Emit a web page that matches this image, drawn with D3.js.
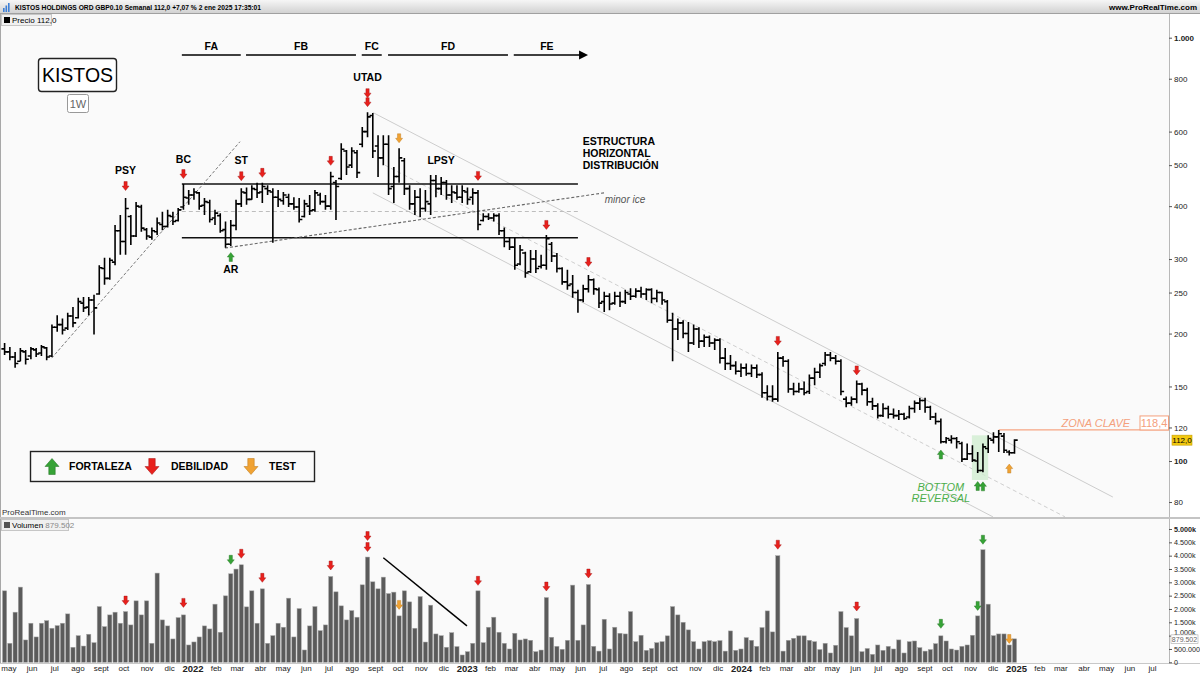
<!DOCTYPE html>
<html>
<head>
<meta charset="utf-8">
<script src="https://cdn.jsdelivr.net/npm/d3@7"></script>
<style>
  body { margin: 0; background: #fff; }
  svg { display: block; font-family: "Liberation Sans", Arial, sans-serif; }
</style>
</head>
<body>
<svg id="chart" width="1200" height="675"></svg>
<script>
// ---- datos semanales (GBp) ----
const firstWeek = new Date(2021, 3, 26);
const opens = [184,181,176,172,181,177,183,180,185,177,
  207,210,206,220,218,236,231,240,248,285,
  270,295,350,330,378,340,398,352,338,348,
  362,358,378,370,398,418,425,430,402,408,
  375,380,352,325,360,405,430,415,438,432,
  440,432,420,412,420,405,398,378,400,392,
  425,410,400,455,465,540,500,535,560,600,
  655,555,520,560,445,470,512,440,405,420,
  395,405,460,440,455,425,430,420,432,420,
  430,370,378,375,380,350,330,320,292,310,
  280,300,288,290,325,305,285,265,262,250,
  240,255,268,254,238,245,236,245,238,248,
  245,252,248,254,242,250,238,215,205,212,
  200,190,205,192,196,190,193,175,170,168,
  163,166,161,166,160,145,142,140,175,172,
  148,146,148,146,157,162,170,178,175,172,
  140,137,140,152,147,138,135,128,133,129,
  128,129,127,133,137,139,134,127,124,111,
  112,113,110,101,104,100,95,107,112,114,
  114.5,105,104.6];
const highs = [190,186,181,185,183,186,185,188,186,210,
  221,217,224,231,243,244,244,247,290,302,
  302,361,381,418,381,409,403,355,356,376,
  388,392,388,396,451,437,441,432,418,414,
  392,385,368,371,414,441,443,448,454,454,
  448,441,437,432,428,420,418,414,425,437,
  430,425,482,461,563,543,551,543,615,667,
  664,588,588,588,495,548,520,448,437,441,
  437,474,474,469,461,448,448,448,443,441,
  437,385,385,385,385,356,338,337,324,312,
  315,315,307,342,329,310,287,283,275,254,
  261,275,270,257,251,249,251,251,254,256,
  256,258,256,256,254,251,240,224,217,215,
  213,210,207,199,198,195,195,185,178,172,
  170,170,169,169,162,151,151,181,177,174,
  153,153,154,160,166,170,181,181,178,174,
  142,142,155,153,149,141,137,137,135,133,
  132,130,135,139,141,141,135,130,126,114,
  115,114,111,110,109,105,110,115,117,118.4,
  116.5,106,112.5];
const lows = [178,173,166,172,169,174,176,177,173,176,
  202,199,204,207,217,225,221,199,247,261,
  268,290,307,307,324,338,348,333,333,342,
  351,356,361,368,392,403,414,392,381,366,
  361,346,319,322,351,398,403,414,418,407,
  425,328,398,403,398,392,366,376,381,388,
  403,392,392,371,461,474,492,466,551,582,
  520,469,500,425,407,454,425,392,381,377,
  388,381,420,425,414,407,414,407,403,403,
  351,368,371,368,342,320,315,283,290,271,
  278,278,285,283,295,279,261,254,243,224,
  237,250,247,230,225,227,234,231,235,240,
  243,243,240,236,237,234,212,172,193,195,
  181,188,185,186,186,183,170,164,164,160,
  158,159,158,157,141,139,138,138,167,145,
  143,145,143,144,151,157,168,172,169,143,
  134,135,137,143,135,132,126,127,126,126,
  125,125,126,130,132,130,125,122,110,110,
  110,107,99.5,100.5,99.5,93.7,94,104.5,110,105,
  104.5,103,104];
const closes = [181,176,170,182,174,184,179,186,176,207,
  210,204,220,212,238,230,240,230,286,270,
  298,350,330,395,340,400,355,340,350,365,
  358,380,368,392,420,425,432,400,410,372,
  385,350,325,360,405,432,415,440,430,445,
  435,420,415,425,405,398,372,405,390,430,
  410,400,470,445,545,495,540,480,600,650,
  540,520,560,440,470,520,440,405,420,395,
  410,460,440,455,425,432,420,435,415,430,
  362,378,375,380,350,330,320,290,315,278,
  300,285,290,335,305,285,265,260,250,240,
  255,268,255,236,245,235,245,238,250,245,
  252,248,254,242,250,240,215,205,212,200,
  190,205,192,196,190,193,175,170,168,163,
  166,161,166,160,145,142,140,175,172,148,
  146,148,145,157,162,168,178,175,172,146,
  137,140,152,147,138,135,128,133,129,128,
  129,126,133,137,139,134,127,124,111,113,
  113,111,101,104,100.5,95,108,113,114,116,
  106,104.6,112];
// volumen en miles
const volumes = [2681,714,1880,2820,838,1466,951,1466,1564,1278,
  1376,1466,1816,565,1000,610,1053,737,2091,1339,
  1778,1880,1466,1903,1402,2305,1778,2305,714,3346,
  1590,1365,876,1677,1778,650,763,951,1365,1252,
  2181,1128,2493,3320,3497,3658,2079,2681,1466,2756,
  714,1000,1466,1316,2406,951,2015,462,1365,2091,
  1188,1402,3219,2643,2117,1590,1940,1692,2906,3948,
  3019,2756,3195,2579,2632,1741,2681,2267,1278,2467,
  760,2143,1064,1000,565,1113,590,275,400,714,
  2681,737,1316,1692,1128,714,500,1090,838,876,
  827,400,460,2429,940,600,490,827,2895,827,
  1402,2918,600,420,1615,500,1316,1090,1064,1903,
  775,1015,450,520,737,775,993,2091,1778,1502,
  1216,775,500,775,814,775,814,420,1177,450,
  500,927,827,600,1304,1928,1140,3998,420,827,
  902,993,993,827,775,480,714,350,640,1903,
  1304,993,1642,400,520,300,650,450,600,500,
  840,350,775,800,550,420,480,700,993,800,
  500,460,600,650,1015,1741,4222,2181,1000,1064,
  1064,650,880];

const priceTicks = [80, 100, 120, 150, 200, 250, 300, 400, 500, 600, 800, 1000];
const volumeTicks = [0, 500, 1000, 1500, 2000, 2500, 3000, 3500, 4000, 4500, 5000];
const monthNames = ["ene","feb","mar","abr","may","jun","jul","ago","sept","oct","nov","dic"];

// señales: índice de barra, tipo, distancia al máximo/mínimo
const priceSignals = [
  {i:23, dir:"down", col:"red", dy:12}, {i:34, dir:"down", col:"red", dy:10},
  {i:45, dir:"down", col:"red", dy:12}, {i:49, dir:"down", col:"red", dy:10},
  {i:62, dir:"down", col:"red", dy:11}, {i:69, dir:"down", col:"red", dy:10},
  {i:69, dir:"down", col:"red", dy:19}, {i:75, dir:"down", col:"orange", dy:10},
  {i:90, dir:"down", col:"red", dy:14}, {i:103, dir:"down", col:"red", dy:10},
  {i:111, dir:"down", col:"red", dy:13}, {i:147, dir:"down", col:"red", dy:11},
  {i:162, dir:"down", col:"red", dy:10},
  {i:43, dir:"up", col:"green", dy:11}, {i:178, dir:"up", col:"green", dy:11},
  {i:185, dir:"up", col:"green", dy:13}, {i:186, dir:"up", col:"green", dy:14},
  {i:191, dir:"up", col:"orange", dy:13}
];
const volumeSignals = [
  {i:23, col:"red", dy:11}, {i:34, col:"red", dy:12}, {i:43, col:"green", dy:14},
  {i:45, col:"red", dy:11}, {i:49, col:"red", dy:11}, {i:62, col:"red", dy:11},
  {i:69, col:"red", dy:10}, {i:69, col:"red", dy:21}, {i:75, col:"orange", dy:11},
  {i:90, col:"red", dy:10}, {i:103, col:"red", dy:11}, {i:111, col:"red", dy:11},
  {i:147, col:"red", dy:11}, {i:162, col:"red", dy:12}, {i:178, col:"green", dy:12},
  {i:185, col:"green", dy:10}, {i:186, col:"green", dy:10}, {i:191, col:"orange", dy:6}
];
const phases = [
  {label:"FA", from:33.7, to:44.9}, {label:"FB", from:45.9, to:66.8},
  {label:"FC", from:67.9, to:71.7}, {label:"FD", from:72.9, to:95.7},
  {label:"FE", from:96.8, to:109.4, arrow:true}
];
const wyckoffLabels = [
  {i:23, p:487, text:"PSY"}, {i:34, p:517, text:"BC"}, {i:45, p:512, text:"ST"},
  {i:69, p:807, text:"UTAD"}, {i:83, p:512, text:"LPSY"}, {i:43, p:284, text:"AR"}
];
const colors = {red:"#e8201c", green:"#36a336", orange:"#f0a233"};
const strokeCols = {red:"#a01010", green:"#1f6e1f", orange:"#b87415"};

// ---- escalas ----
const svg = d3.select("#chart");
const last = opens.length - 1;
const weeks = opens.map((d, i) => d3.timeDay.offset(firstWeek, 7 * i));
const x = d3.scaleTime().domain([weeks[0], weeks[last]]).range([4.6, 1014.5]);
const xi = d3.scaleLinear().domain([0, last]).range([4.6, 1014.5]);
const y = d3.scaleLog().domain([100, 1000]).range([461, 37.7]);
const yv = d3.scaleLinear().domain([0, 5000]).range([662.3, 529]);
const plotR = 1169;

function arrowPath(w, h, up) {
  const s = w * 0.23, hh = h * 0.5, t = -h / 2, b = h / 2;
  let pts = [[-s,t],[s,t],[s,b-hh],[w/2,b-hh],[0,b],[-w/2,b-hh],[-s,b-hh]];
  if (up) pts = pts.map(p => [p[0], -p[1]]);
  return "M" + pts.map(p => p.join(",")).join("L") + "Z";
}

const defs = svg.append("defs");
const grad = defs.append("linearGradient").attr("id","hdr").attr("x1",0).attr("x2",0).attr("y1",0).attr("y2",1);
grad.append("stop").attr("offset","0%").attr("stop-color","#f6f6f6");
grad.append("stop").attr("offset","100%").attr("stop-color","#d2d2d2");
defs.append("clipPath").attr("id","clipP").append("rect")
  .attr("x",0).attr("y",14).attr("width",plotR).attr("height",503);
defs.append("clipPath").attr("id","clipV").append("rect")
  .attr("x",0).attr("y",519).attr("width",plotR).attr("height",144);

// fondos
svg.append("rect").attr("width",1200).attr("height",675).attr("fill","#fff");
svg.append("rect").attr("x",0).attr("y",14).attr("width",plotR).attr("height",503).attr("fill","#fafafa");
svg.append("rect").attr("x",0).attr("y",519).attr("width",plotR).attr("height",144).attr("fill","#fafafa");
svg.append("line").attr("x1",0.5).attr("x2",0.5).attr("y1",14).attr("y2",663).attr("stroke","#a8a8a8");
svg.append("line").attr("x1",plotR+0.5).attr("x2",plotR+0.5).attr("y1",14).attr("y2",663).attr("stroke","#b8b8b8");
svg.append("rect").attr("x",0).attr("y",517).attr("width",1200).attr("height",2).attr("fill","#c4c4c4");
svg.append("line").attr("x1",0).attr("x2",1200).attr("y1",663.5).attr("y2",663.5).attr("stroke","#c8c8c8");

// cabecera
svg.append("rect").attr("width",1200).attr("height",13).attr("fill","url(#hdr)");
svg.append("line").attr("x1",0).attr("x2",1200).attr("y1",13.5).attr("y2",13.5).attr("stroke","#a0a0a0");
[3,5.5,8].forEach((bx, k) => svg.append("rect").attr("x",bx).attr("y",8 - k * 2.5)
  .attr("width",1.6).attr("height",4 + k * 2.5).attr("fill","#3d7fd6"));
svg.append("text").attr("x",15).attr("y",10).attr("font-size",8).attr("font-weight","bold")
  .attr("textLength",246).attr("lengthAdjust","spacingAndGlyphs")
  .text("KISTOS HOLDINGS ORD GBP0.10 Semanal 112,0 +7,07 % 2 ene 2025 17:35:01");
svg.append("text").attr("x",1197).attr("y",10).attr("font-size",8).attr("font-weight","bold")
  .attr("text-anchor","end").text("www.ProRealTime.com");

// ---- panel de precio ----
const gP = svg.append("g").attr("clip-path","url(#clipP)");
const P = (i, p) => [xi(i), y(p)];
function lineAt(g, a, b, stroke, width, dash) {
  g.append("line").attr("x1",P(...a)[0]).attr("y1",P(...a)[1]).attr("x2",P(...b)[0]).attr("y2",P(...b)[1])
    .attr("stroke",stroke).attr("stroke-width",width).attr("stroke-dasharray",dash || null);
}
// canal bajista
lineAt(gP, [70, 666], [210.7, 82.2], "#cdcdcd", 1);
lineAt(gP, [72.3, 500], [201.6, 73.8], "#cfcfcf", 1, "4,3");
lineAt(gP, [70, 430], [187.9, 73.8], "#cdcdcd", 1);
// rango de distribución
lineAt(gP, [33.7, 388.5], [109, 388.5], "#bdbdbd", 1, "4,3");
lineAt(gP, [33.7, 451.5], [109, 451.5], "#111", 1.5);
lineAt(gP, [33.7, 337], [109, 337], "#111", 1.5);
// directrices
lineAt(gP, [8.95, 175], [44.75, 568], "#777", 1, "3,2");
lineAt(gP, [41.9, 318.5], [114, 430], "#666", 1.1, "3,2");
// zona de giro
gP.append("rect").attr("x",xi(183.9)).attr("y",y(115)).attr("width",xi(187) - xi(183.9))
  .attr("height",y(90.2) - y(115)).attr("fill","#cdeccd").attr("opacity",0.75);
// zona clave
gP.append("line").attr("x1",xi(189)).attr("x2",plotR).attr("y1",y(118.4)).attr("y2",y(118.4))
  .attr("stroke","#f6a583").attr("stroke-width",1.3);

const bars = opens.map((o, i) => ({i, o, h: highs[i], l: lows[i], c: closes[i]}));
gP.selectAll("path.bar").data(bars).join("path").attr("class","bar")
  .attr("d", d => {
    const cx = xi(d.i);
    return `M${cx},${y(d.h)}V${y(d.l)}M${cx - 3.2},${y(d.o)}H${cx}M${cx},${y(d.c)}H${cx + 3.2}`;
  })
  .attr("stroke","#000").attr("stroke-width",1.6).attr("fill","none");

gP.selectAll("path.sig").data(priceSignals).join("path").attr("class","sig")
  .attr("transform", d => `translate(${xi(d.i)},${d.dir === "down" ? y(highs[d.i]) - d.dy : y(lows[d.i]) + d.dy})`)
  .attr("d", d => arrowPath(7, 9, d.dir === "up"))
  .attr("fill", d => colors[d.col]).attr("stroke", d => strokeCols[d.col]).attr("stroke-width",0.4);

// fases
const gPh = svg.append("g");
phases.forEach(ph => {
  gPh.append("line").attr("x1",xi(ph.from)).attr("x2",xi(ph.to)).attr("y1",55).attr("y2",55)
    .attr("stroke","#000").attr("stroke-width",1.5);
  gPh.append("text").attr("x",(xi(ph.from) + xi(ph.to)) / 2).attr("y",50).attr("text-anchor","middle")
    .attr("font-size",10.5).attr("font-weight","bold").text(ph.label);
  if (ph.arrow) {
    const ax = xi(ph.to);
    gPh.append("path").attr("d",`M${ax - 1},50.5L${ax + 8},55L${ax - 1},59.5Z`).attr("fill","#000");
  }
});

wyckoffLabels.forEach(l => gP.append("text").attr("x",xi(l.i)).attr("y",y(l.p))
  .attr("dy","0.35em").attr("text-anchor","middle").attr("font-size",10.5)
  .attr("font-weight","bold").text(l.text));

["ESTRUCTURA","HORIZONTAL","DISTRIBUCIÓN"].forEach((t, k) =>
  gP.append("text").attr("x",xi(109.9)).attr("y",y([568,533,500][k])).attr("dy","0.35em")
    .attr("font-size",10.5).attr("font-weight","bold").text(t));
gP.append("text").attr("x",xi(114.1)).attr("y",y(414)).attr("dy","0.35em")
  .attr("font-size",10).attr("font-style","italic").attr("fill","#555").text("minor ice");

gP.append("text").attr("x",xi(214)).attr("y",y(118.4) - 7).attr("dy","0.35em").attr("text-anchor","end")
  .attr("font-size",11).attr("font-style","italic").attr("fill","#f4a07c").text("ZONA CLAVE");
gP.append("rect").attr("x",plotR - 29).attr("y",y(118.4) - 14).attr("width",28.5).attr("height",14)
  .attr("fill","#fff").attr("stroke","#f4a07c");
gP.append("text").attr("x",plotR - 15).attr("y",y(118.4) - 7).attr("dy","0.35em").attr("text-anchor","middle")
  .attr("font-size",11).attr("fill","#f4a07c").text("118,4");

[["BOTTOM",86.8],["REVERSAL",81.8]].forEach(([t, p]) =>
  gP.append("text").attr("x",xi(178)).attr("y",y(p)).attr("dy","0.35em").attr("text-anchor","middle")
    .attr("font-size",11).attr("font-style","italic").attr("fill","#4cae4c").text(t));

// caja del ticker
svg.append("rect").attr("x",38.5).attr("y",58.5).attr("width",78).attr("height",33).attr("rx",3)
  .attr("fill","#fff").attr("stroke","#222").attr("stroke-width",1.4);
svg.append("text").attr("x",77.5).attr("y",82).attr("text-anchor","middle").attr("font-size",19.5).text("KISTOS");
svg.append("rect").attr("x",67.5).attr("y",94.5).attr("width",21).attr("height",18).attr("rx",2)
  .attr("fill","#fff").attr("stroke","#999");
svg.append("text").attr("x",78).attr("y",107.5).attr("text-anchor","middle").attr("font-size",11)
  .attr("fill","#666").text("1W");

// leyenda
svg.append("rect").attr("x",30.5).attr("y",451.5).attr("width",284).attr("height",30)
  .attr("fill","#fafafa").attr("stroke","#222").attr("stroke-width",1.4);
[{col:"green", up:true, x:52, t:"FORTALEZA", tx:69},
 {col:"red", up:false, x:152, t:"DEBILIDAD", tx:171},
 {col:"orange", up:false, x:251, t:"TEST", tx:269}].forEach(l => {
  svg.append("path").attr("transform",`translate(${l.x},466.5)`).attr("d",arrowPath(14,16,l.up))
    .attr("fill",colors[l.col]).attr("stroke",strokeCols[l.col]).attr("stroke-width",0.5);
  svg.append("text").attr("x",l.tx).attr("y",466.5).attr("dy","0.35em").attr("font-size",10.5)
    .attr("font-weight","bold").text(l.t);
});

svg.append("text").attr("x",2).attr("y",515).attr("font-size",8).attr("fill","#333").text("ProRealTime.com");
svg.append("rect").attr("x",1.5).attr("y",14.5).attr("width",50).attr("height",11).attr("fill","#f0f0f0").attr("stroke","#c6c6c6");
svg.append("rect").attr("x",4).attr("y",17).attr("width",6).attr("height",6).attr("fill","#000");
svg.append("text").attr("x",12).attr("y",23).attr("font-size",8).text("Precio 112,0");

// eje de precio
const gy = svg.append("g").attr("transform",`translate(${plotR},0)`)
  .call(d3.axisRight(y).tickValues(priceTicks).tickSize(3).tickPadding(2)
    .tickFormat(d => d === 1000 ? "1.000" : String(d)));
gy.select(".domain").remove();
gy.selectAll("line").attr("stroke","#555");
gy.selectAll("text").attr("font-size",8).attr("fill","#222")
  .attr("font-weight", d => (d === 1000 || d === 100) ? "bold" : null)
  .attr("font-family","Liberation Sans, Arial, sans-serif");
svg.append("rect").attr("x",plotR + 3).attr("y",y(112) - 5).attr("width",20).attr("height",10)
  .attr("fill","#f2c80f").attr("stroke","#c29c00").attr("stroke-width",0.6);
svg.append("text").attr("x",plotR + 13).attr("y",y(112)).attr("dy","0.35em").attr("text-anchor","middle")
  .attr("font-size",8).text("112,0");

// ---- panel de volumen ----
const gV = svg.append("g").attr("clip-path","url(#clipV)");
gV.selectAll("rect.vol").data(volumes).join("rect").attr("class","vol")
  .attr("x",(d, i) => xi(i) - 2.1).attr("width",4.2)
  .attr("y",d => yv(d)).attr("height",d => yv(0) - yv(d))
  .attr("fill","#5b5b5b").attr("stroke","#a8a8a8").attr("stroke-width",0.5);
gV.selectAll("path.vsig").data(volumeSignals).join("path").attr("class","vsig")
  .attr("transform",d => `translate(${xi(d.i)},${yv(volumes[d.i]) - d.dy})`)
  .attr("d",arrowPath(7, 9, false))
  .attr("fill",d => colors[d.col]).attr("stroke",d => strokeCols[d.col]).attr("stroke-width",0.4);
gV.append("line").attr("x1",xi(72)).attr("y1",yv(3922)).attr("x2",xi(87.9)).attr("y2",yv(1365))
  .attr("stroke","#000").attr("stroke-width",1.5);

svg.append("rect").attr("x",1.5).attr("y",519.5).attr("width",67).attr("height",11).attr("fill","#f0f0f0").attr("stroke","#c6c6c6");
svg.append("rect").attr("x",4).attr("y",522).attr("width",6).attr("height",6).attr("fill","#555");
const vt = svg.append("text").attr("x",12).attr("y",528).attr("font-size",8);
vt.append("tspan").text("Volumen ");
vt.append("tspan").attr("fill","#888").text("879.502");

const gyv = svg.append("g").attr("transform",`translate(${plotR},0)`)
  .call(d3.axisRight(yv).tickValues(volumeTicks).tickSize(3).tickPadding(2)
    .tickFormat(d => d === 0 ? "0" : d === 500 ? "500.000" : d3.format(",")(d).replace(",", ".") + "k"));
gyv.select(".domain").remove();
gyv.selectAll("line").attr("stroke","#555");
gyv.selectAll("text").attr("font-size",7.2).attr("fill","#222")
  .attr("font-weight", d => d === 5000 ? "bold" : null)
  .attr("font-family","Liberation Sans, Arial, sans-serif");
// la etiqueta 1.000k queda casi tapada por el marcador del último volumen
gyv.selectAll("text").filter(d => d === 1000).attr("dy","-0.1em");
svg.append("rect").attr("x",plotR + 2).attr("y",yv(879.5) - 4).attr("width",27).attr("height",8.5)
  .attr("fill","#fff").attr("stroke","#aaa").attr("stroke-width",0.6);
svg.append("text").attr("x",plotR + 15.5).attr("y",yv(879.5) + 0.3).attr("dy","0.35em").attr("text-anchor","middle")
  .attr("font-size",7).attr("fill","#666").text("879.502");

// ---- eje temporal ----
const months = d3.timeMonth.range(new Date(2021, 4, 1), new Date(2025, 6, 2));
const gx = svg.append("g").attr("transform","translate(0,665)")
  .call(d3.axisBottom(x).tickValues(months).tickSize(0).tickPadding(0)
    .tickFormat(d => d.getMonth() === 0 ? String(d.getFullYear()) : monthNames[d.getMonth()]));
gx.select(".domain").remove();
gx.selectAll("text").attr("fill","#222").attr("font-family","Liberation Sans, Arial, sans-serif")
  .attr("font-size", d => d.getMonth() === 0 ? 9.5 : 8)
  .attr("font-weight", d => d.getMonth() === 0 ? "bold" : null);
</script>
</body>
</html>
